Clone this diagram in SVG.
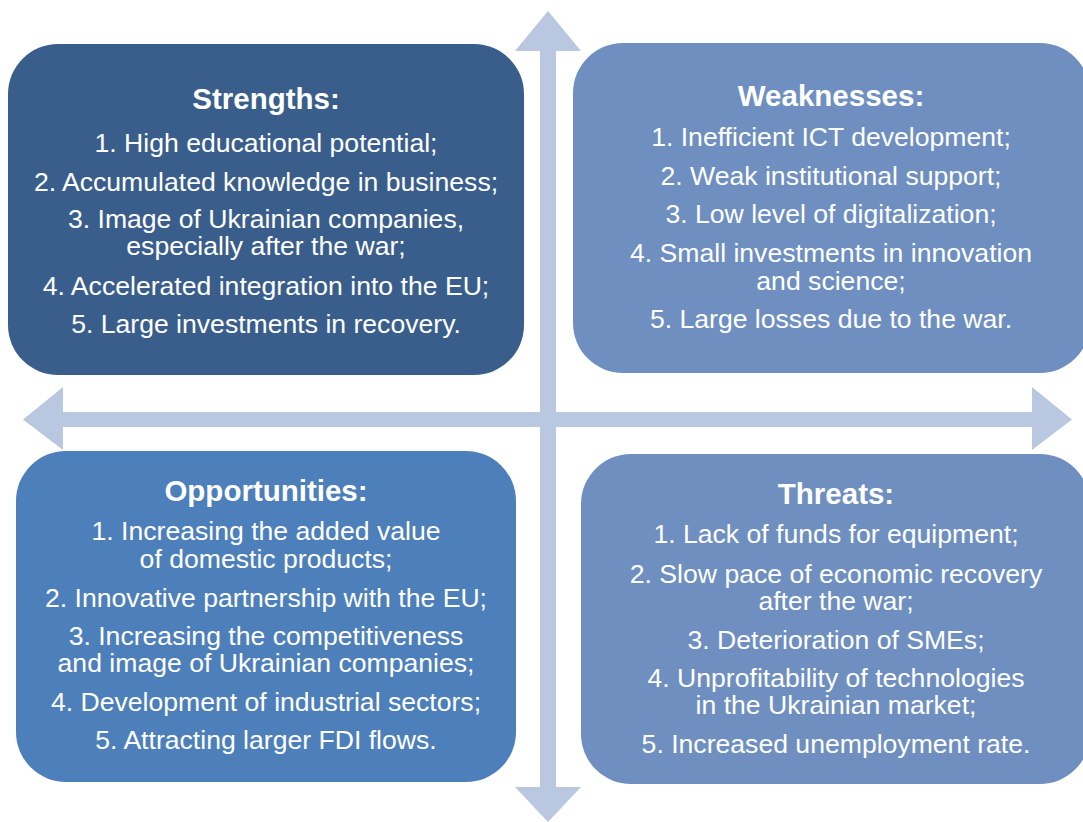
<svg xmlns="http://www.w3.org/2000/svg" width="1083" height="822" viewBox="0 0 1083 822">
  <style>
    .axis { fill: #b9c7e0; }
    .box { stroke: none; }
    .title { font-family: "Liberation Sans", Arial, sans-serif; font-size: 29.5px; font-weight: bold; fill: #ffffff; text-anchor: middle; }
    .item { font-family: "Liberation Sans", Arial, sans-serif; font-size: 26.6px; fill: #ffffff; text-anchor: middle; }
  </style>
  <rect width="1083" height="822" fill="#ffffff"/>

  <!-- Axis cross with four arrowheads -->
  <g id="connectors">
    <polygon class="axis" points="548,11 581,51 556,51 556,787 581,787 548,822 515,787 540,787 540,51 515,51"/>
    <polygon class="axis" points="23,419.5 63,387 63,412 1032,412 1032,387 1072,419.5 1032,450 1032,427 63,427 63,450"/>
  </g>

  <!-- Strengths -->
  <g id="strengths">
    <rect class="box" x="8" y="44" width="516" height="331" rx="50" ry="50" fill="#3a5e8b"/>
    <text class="title" x="266" y="109">Strengths:</text>
    <text class="item" x="266" y="152">1. High educational potential;</text>
    <text class="item" x="266" y="191">2. Accumulated knowledge in business;</text>
    <text class="item" x="266" y="228">3. Image of Ukrainian companies,</text>
    <text class="item" x="266" y="255">especially after the war;</text>
    <text class="item" x="266" y="295">4. Accelerated integration into the EU;</text>
    <text class="item" x="266" y="333">5. Large investments in recovery.</text>
  </g>

  <!-- Weaknesses -->
  <g id="weaknesses">
    <rect class="box" x="573" y="43" width="517" height="330" rx="50" ry="50" fill="#6e8fc0"/>
    <text class="title" x="831" y="106">Weaknesses:</text>
    <text class="item" x="831" y="146">1. Inefficient ICT development;</text>
    <text class="item" x="831" y="185">2. Weak institutional support;</text>
    <text class="item" x="831" y="223">3. Low level of digitalization;</text>
    <text class="item" x="831" y="262">4. Small investments in innovation</text>
    <text class="item" x="831" y="290">and science;</text>
    <text class="item" x="831" y="328">5. Large losses due to the war.</text>
  </g>

  <!-- Opportunities -->
  <g id="opportunities">
    <rect class="box" x="16" y="451" width="500" height="331" rx="50" ry="50" fill="#4d7fba"/>
    <text class="title" x="266" y="501">Opportunities:</text>
    <text class="item" x="266" y="540">1. Increasing the added value</text>
    <text class="item" x="266" y="568">of domestic products;</text>
    <text class="item" x="266" y="607">2. Innovative partnership with the EU;</text>
    <text class="item" x="266" y="645">3. Increasing the competitiveness</text>
    <text class="item" x="266" y="672">and image of Ukrainian companies;</text>
    <text class="item" x="266" y="711">4. Development of industrial sectors;</text>
    <text class="item" x="266" y="749">5. Attracting larger FDI flows.</text>
  </g>

  <!-- Threats -->
  <g id="threats">
    <rect class="box" x="581" y="454" width="509" height="330" rx="50" ry="50" fill="#6e8fc0"/>
    <text class="title" x="836" y="504">Threats:</text>
    <text class="item" x="836" y="543">1. Lack of funds for equipment;</text>
    <text class="item" x="836" y="583">2. Slow pace of economic recovery</text>
    <text class="item" x="836" y="610">after the war;</text>
    <text class="item" x="836" y="649">3. Deterioration of SMEs;</text>
    <text class="item" x="836" y="687">4. Unprofitability of technologies</text>
    <text class="item" x="836" y="714">in the Ukrainian market;</text>
    <text class="item" x="836" y="753">5. Increased unemployment rate.</text>
  </g>
</svg>
